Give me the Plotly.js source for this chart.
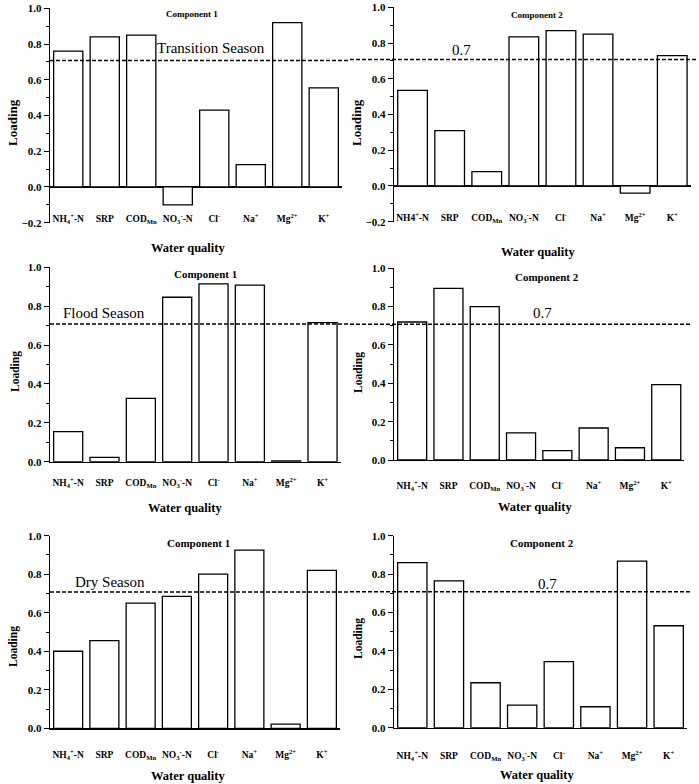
<!DOCTYPE html>
<html>
<head>
<meta charset="utf-8">
<script src="https://cdn.plot.ly/plotly-3.0.1.min.js"></script>
<style>
html, body { margin: 0; padding: 0; background: #fff; }
#chart { width: 699px; height: 784px; }
</style>
</head>
<body>
<div id="chart"></div>
<script>
const W = 699, H = 784;

// water quality parameters (x categories)
const categories = ['NH<sub>4</sub><sup>+</sup>-N', 'SRP', 'COD<sub>Mn</sub>', 'NO<sub>3</sub><sup>-</sup>-N',
                    'Cl<sup>-</sup>', 'Na<sup>+</sup>', 'Mg<sup>2+</sup>', 'K<sup>+</sup>'];
const categoriesAlt = ['NH4<sup>+</sup>-N', 'SRP', 'COD<sub>Mn</sub>', 'NO<sub>3</sub><sup>-</sup>-N',
                       'Cl<sup>-</sup>', 'Na<sup>+</sup>', 'Mg<sup>2+</sup>', 'K<sup>+</sup>'];

// loadings
const transitionC1 = [0.76, 0.84, 0.85, -0.10, 0.43, 0.125, 0.92, 0.555];
const transitionC2 = [0.535, 0.31, 0.08, 0.835, 0.87, 0.85, -0.04, 0.73];
const floodC1 = [0.155, 0.022, 0.326, 0.846, 0.915, 0.908, 0.004, 0.715];
const floodC2 = [0.72, 0.895, 0.80, 0.141, 0.049, 0.167, 0.064, 0.393];
const dryC1 = [0.40, 0.455, 0.65, 0.685, 0.80, 0.925, 0.022, 0.82];
const dryC2 = [0.86, 0.765, 0.234, 0.118, 0.344, 0.109, 0.868, 0.531];
const threshold = 0.708;

const SERIF = '"Liberation Serif", "Times New Roman", serif';
const px = v => v / W;
const py = v => 1 - v / H;

// box = [left, right, top, bottom] in pixels
const panels = [
  { values: transitionC1, cats: categories, box: [50, 342, 8.3, 222.7], yMin: -0.2, standoff: -11,
    comp: 'Component 1', compPos: [192, 14], compSize: 9,
    note: 'Transition Season', notePos: [211, 48], line: [50, 350],
    loadPos: [13, 123], loadSize: 13, wqPos: [188, 248] },
  { values: transitionC2, cats: categoriesAlt, box: [394, 690.8, 7.3, 221.7], yMin: -0.2, standoff: -11,
    comp: 'Component 2', compPos: [537, 15], compSize: 9,
    note: '0.7', notePos: [461.5, 50], line: [350, 697],
    loadPos: [357, 123], loadSize: 13, wqPos: [538, 251.7] },
  { values: floodC1, cats: categories, box: [50, 340.7, 267.3, 461.7], yMin: 0, standoff: 12,
    comp: 'Component 1', compPos: [206, 274], compSize: 11,
    note: 'Flood Season', notePos: [104, 313], line: [50, 350],
    loadPos: [15, 372], loadSize: 11.5, wqPos: [185, 508.3] },
  { values: floodC2, cats: categories, box: [394, 684.4, 268.3, 460], yMin: 0, standoff: 16,
    comp: 'Component 2', compPos: [547, 276.7], compSize: 11,
    note: '0.7', notePos: [542.5, 313], line: [350, 690],
    loadPos: [358, 372], loadSize: 11.5, wqPos: [535, 506.7] },
  { values: dryC1, cats: categories, box: [50, 340, 535.7, 728.3], yMin: 0, standoff: 17,
    comp: 'Component 1', compPos: [198, 542.7], compSize: 11,
    note: 'Dry Season', notePos: [110, 581.7], line: [50, 350],
    loadPos: [13, 647], loadSize: 11.5, wqPos: [187.5, 776] },
  { values: dryC2, cats: categories, box: [394, 687, 535.7, 727.7], yMin: 0, standoff: 19,
    comp: 'Component 2', compPos: [542, 543.3], compSize: 11,
    note: '0.7', notePos: [547.5, 584], line: [350, 690],
    loadPos: [358, 638], loadSize: 11.5, wqPos: [536.7, 775] }
];

const data = [];
const layout = {
  width: W, height: H,
  margin: { l: 0, r: 0, t: 0, b: 0 },
  paper_bgcolor: '#fff', plot_bgcolor: 'rgba(0,0,0,0)',
  showlegend: false,
  bargap: 0.2,
  font: { family: SERIF, color: '#000' },
  shapes: [],
  annotations: []
};

panels.forEach((p, i) => {
  const n = i + 1;
  const xa = 'x' + (n === 1 ? '' : n), ya = 'y' + (n === 1 ? '' : n);
  const xk = 'xaxis' + (n === 1 ? '' : n), yk = 'yaxis' + (n === 1 ? '' : n);

  data.push({
    type: 'bar', x: p.cats, y: p.values, xaxis: xa, yaxis: ya,
    marker: { color: '#fff', line: { color: '#000', width: 1.3 } },
    hoverinfo: 'x+y'
  });

  layout[xk] = {
    domain: [px(p.box[0]), px(p.box[1])],
    anchor: ya, type: 'category', range: [-0.5, 7.5],
    showgrid: false, zeroline: false,
    showline: p.yMin === 0, linecolor: '#000', linewidth: 1.3,
    ticks: '', ticklabelstandoff: p.standoff,
    tickfont: { family: SERIF, size: 9.5, weight: 'bold', color: '#000' }
  };
  layout[yk] = {
    domain: [py(p.box[3]), py(p.box[2])],
    anchor: xa, range: [p.yMin, 1.0],
    showgrid: false,
    zeroline: p.yMin < 0, zerolinecolor: '#000', zerolinewidth: 1.3,
    showline: true, linecolor: '#000', linewidth: 1.3,
    ticks: 'outside', ticklen: 5, tickwidth: 1, tickcolor: '#000',
    dtick: 0.2, tick0: 0, tickformat: '.1f',
    minor: { dtick: 0.1, ticks: 'outside', ticklen: 3, tickcolor: '#000', showgrid: false },
    tickfont: { family: SERIF, size: 11, weight: 'bold', color: '#000' }
  };

  layout.shapes.push({
    type: 'line', xref: 'paper', yref: ya,
    x0: px(p.line[0]), x1: px(p.line[1]), y0: threshold, y1: threshold,
    line: { color: '#000', width: 1.5, dash: '4px,2px' }
  });

  const ann = (text, pos, font, extra) => Object.assign({
    text, xref: 'paper', yref: 'paper', x: px(pos[0]), y: py(pos[1]),
    xanchor: 'center', yanchor: 'middle', showarrow: false, font
  }, extra || {});

  layout.annotations.push(
    ann(p.comp, p.compPos, { family: SERIF, size: p.compSize, weight: 'bold', color: '#000' }),
    ann(p.note, p.notePos, { family: SERIF, size: 15, color: '#000' }),
    ann('Loading', p.loadPos, { family: SERIF, size: p.loadSize, weight: 'bold', color: '#000' }, { textangle: -90 }),
    ann('Water quality', p.wqPos, { family: SERIF, size: 12.5, weight: 'bold', color: '#000' })
  );
});

Plotly.newPlot('chart', data, layout, { displayModeBar: false, staticPlot: true });
</script>
</body>
</html>
